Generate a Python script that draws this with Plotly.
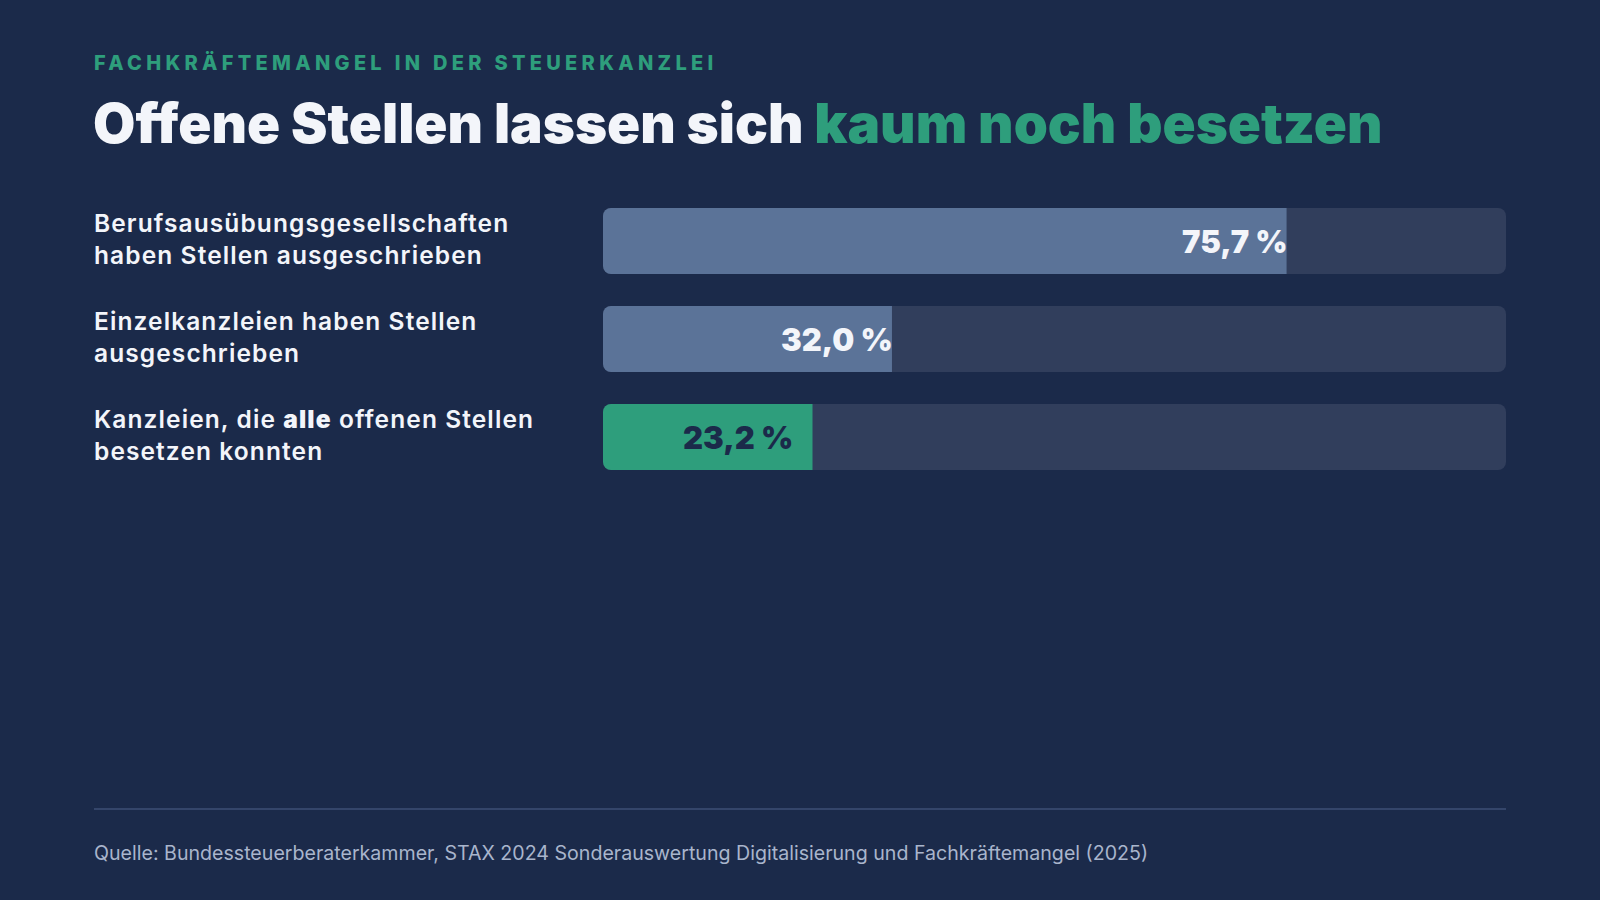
import plotly.graph_objects as go

categories = [
    "Berufsausübungsgesellschaften<br>haben Stellen ausgeschrieben",
    "Einzelkanzleien haben Stellen<br>ausgeschrieben",
    'Kanzleien, die <span style="font-weight:900">alle</span> offenen Stellen<br>besetzen konnten',
]
values = [75.7, 32.0, 23.2]
value_labels = ["75,7 %", "32,0 %", "23,2 %"]
track_max = [100, 100, 100]

BG = "#1b2a4a"
TRACK = "#313e5c"
BLUE = "#5b7398"
GREEN = "#2e9e7c"
WHITE = "#f3f5fa"
NAVY = "#1b2a4a"

bar_colors = [BLUE, BLUE, GREEN]
label_colors = [WHITE, WHITE, NAVY]
label_shift = [3, 3, -18]

ypos = list(range(len(categories)))
FONT = "Inter"
W = 66 / 98

# x axis geometry (pixels)
X0_PX, X1_PX = 603, 1506
AX_LEN = X1_PX - X0_PX
# axis origin is shifted so every bar is drawn as two pieces growing out of 0:
# plotly rounds the far end of each piece, giving rounded corners on both sides.
# The shift is chosen so that the origin lands on a whole pixel (no seam).
OFF = 90 * 100 / AX_LEN

def bar_pair(vals, colors):
    left = go.Bar(
        x=[-OFF for _ in vals], y=ypos, orientation="h", width=W,
        marker=dict(color=colors, line=dict(width=0), cornerradius=8),
        hoverinfo="skip", showlegend=False,
    )
    right = go.Bar(
        x=[v - OFF for v in vals], y=ypos, orientation="h", width=W,
        marker=dict(color=colors, line=dict(width=0), cornerradius=8),
        hoverinfo="skip", showlegend=False,
    )
    return [left, right]

fig = go.Figure()
for tr in bar_pair(track_max, TRACK):
    fig.add_trace(tr)
for tr in bar_pair(values, bar_colors):
    fig.add_trace(tr)

annotations = []
for i, (cat, v, lab) in enumerate(zip(categories, values, value_labels)):
    annotations.append(dict(
        x=v - OFF, y=i, xref="x", yref="y", text=lab, showarrow=False,
        xanchor="right", yanchor="middle", xshift=label_shift[i],
        font=dict(family=FONT, size=31, color=label_colors[i], weight=900),
    ))
    spaced = "<br>".join(
        '<span style="letter-spacing:1.1px">%s</span>' % part for part in cat.split("<br>")
    )
    annotations.append(dict(
        x=92 / 1600, y=i, xref="paper", yref="y", text=spaced, showarrow=False,
        xanchor="left", yanchor="middle", align="left", yshift=2,
        font=dict(family=FONT, size=24.5, color=WHITE, weight=600),
    ))

annotations.append(dict(
    x=92 / 1600, y=1 - 62 / 900, xref="paper", yref="paper",
    text='<span style="letter-spacing:4.3px">FACHKRÄFTEMANGEL IN DER STEUERKANZLEI</span>',
    showarrow=False, xanchor="left", yanchor="middle",
    font=dict(family=FONT, size=20, color=GREEN, weight=800),
))
annotations.append(dict(
    x=91 / 1600, y=1 - 123 / 900, xref="paper", yref="paper",
    text='Offene Stellen lassen sich <span style="color:%s">kaum noch besetzen</span>' % GREEN,
    showarrow=False, xanchor="left", yanchor="middle",
    font=dict(family=FONT, size=54.7, color=WHITE, weight=900),
))
annotations.append(dict(
    x=92 / 1600, y=1 - 853 / 900, xref="paper", yref="paper",
    text="Quelle: Bundessteuerberaterkammer, STAX 2024 Sonderauswertung Digitalisierung und Fachkräftemangel (2025)",
    showarrow=False, xanchor="left", yanchor="middle",
    font=dict(family=FONT, size=19.6, color="#a9b5cc"),
))

fig.add_shape(type="line", xref="paper", yref="paper",
              x0=94 / 1600, x1=1506 / 1600, y0=1 - 809 / 900, y1=1 - 809 / 900,
              line=dict(color="#34456a", width=2))

fig.update_layout(
    width=1600, height=900,
    margin=dict(l=0, r=0, t=0, b=0),
    paper_bgcolor=BG, plot_bgcolor=BG,
    barmode="overlay",
    xaxis=dict(domain=[X0_PX / 1600, X1_PX / 1600], range=[-OFF, 100 - OFF], visible=False, fixedrange=True),
    yaxis=dict(domain=[1 - 486 / 900, 1 - 192 / 900], range=[2.5, -0.5], visible=False, fixedrange=True),
    annotations=annotations,
    showlegend=False,
)

fig.write_html("out.html", config={"displayModeBar": False})
